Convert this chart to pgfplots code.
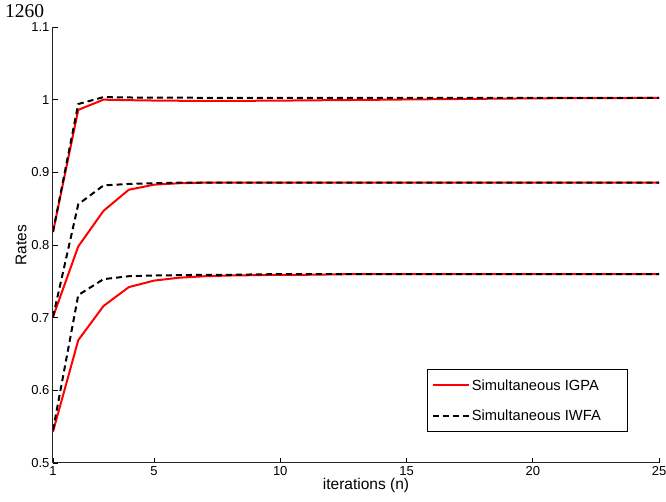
\documentclass[border=0pt]{standalone}
\usepackage{pgfplots}
\pgfplotsset{compat=1.18}
\usepackage{fontspec}
\setmainfont{Liberation Sans}
\newfontfamily\serifpage{Liberation Serif}
\begin{document}
\begin{tikzpicture}[x=1pt,y=1pt]
\path[use as bounding box] (-53,-39) rectangle (613,463);
\node[anchor=base west, inner sep=0pt, font=\serifpage\fontsize{19.5}{22}\selectfont] at (-48,445) {1260};
\begin{axis}[
  at={(0,0)}, anchor=south west,
  scale only axis, width=606pt, height=436pt,
  xmin=1, xmax=25, ymin=0.5, ymax=1.1,
  xtick={1,5,10,15,20,25},
  ytick={0.5,0.6,0.7,0.8,0.9,1,1.1},
  axis lines*=left,
  tick align=inside,
  major tick length=5pt,
  axis line style={line width=1pt, black!85},
  tick style={line width=0.7pt, black},
  /pgf/number format/assume math mode=true,
  tick label style={font=\fontsize{13}{15}\selectfont},
  xlabel={iterations (n)},
  ylabel={Rates},
  label style={font=\fontsize{15.5}{18}\selectfont},
  xlabel style={yshift=4pt, xshift=10pt},
  ylabel style={yshift=-2pt},
  legend style={at={(0.949,0.071)}, anchor=south east, draw=black, line width=0.7pt,
    fill=white, font=\fontsize{14.7}{17}\selectfont, row sep=14pt,
    inner xsep=4pt, inner ysep=8pt},
  legend cell align=left,
  legend image code/.code={\draw[#1] (0pt,0pt) -- (36pt,0pt);},
]
\addplot[red, line width=2pt] table {
x y
1 0.818
2 0.986
3 1.000
4 0.9993
5 0.9988
6 0.9985
7 0.9984
8 0.9984
9 0.9985
10 0.9987
11 0.9990
12 0.9993
13 0.9996
14 0.9999
15 1.0003
16 1.0006
17 1.0009
18 1.0012
19 1.0015
20 1.0018
21 1.0020
22 1.0021
23 1.0022
24 1.0023
25 1.0023
};
\addlegendentry{\makebox[150pt][l]{Simultaneous IGPA}}
\addplot[black, line width=2pt, dash pattern=on 6pt off 4pt] table {
x y
1 0.818
2 0.994
3 1.0035
4 1.0030
5 1.0028
6 1.0027
7 1.0026
8 1.0026
9 1.0025
10 1.0025
11 1.0025
12 1.0024
13 1.0024
14 1.0024
15 1.0024
16 1.0024
17 1.0024
18 1.0024
19 1.0024
20 1.0024
21 1.0024
22 1.0023
23 1.0023
24 1.0023
25 1.0023
};
\addlegendentry{\makebox[150pt][l]{Simultaneous IWFA}}
\addplot[red, line width=2pt, forget plot] table {
x y
1 0.701
2 0.798
3 0.847
4 0.876
5 0.883
6 0.885
7 0.8858
8 0.886
9 0.886
10 0.886
11 0.886
12 0.886
13 0.886
14 0.886
15 0.886
16 0.886
17 0.886
18 0.886
19 0.886
20 0.886
21 0.886
22 0.886
23 0.886
24 0.886
25 0.886
};
\addplot[black, line width=2pt, dash pattern=on 6pt off 4pt, forget plot] table {
x y
1 0.701
2 0.856
3 0.882
4 0.884
5 0.885
6 0.8858
7 0.886
8 0.886
9 0.886
10 0.886
11 0.886
12 0.886
13 0.886
14 0.886
15 0.886
16 0.886
17 0.886
18 0.886
19 0.886
20 0.886
21 0.886
22 0.886
23 0.886
24 0.886
25 0.886
};
\addplot[red, line width=2pt, forget plot] table {
x y
1 0.543
2 0.669
3 0.716
4 0.742
5 0.751
6 0.755
7 0.757
8 0.758
9 0.7585
10 0.759
11 0.759
12 0.7595
13 0.760
14 0.760
15 0.760
16 0.760
17 0.760
18 0.760
19 0.760
20 0.760
21 0.760
22 0.760
23 0.760
24 0.760
25 0.760
};
\addplot[black, line width=2pt, dash pattern=on 6pt off 4pt, forget plot] table {
x y
1 0.545
2 0.731
3 0.753
4 0.757
5 0.758
6 0.7585
7 0.759
8 0.759
9 0.7595
10 0.760
11 0.760
12 0.760
13 0.760
14 0.760
15 0.760
16 0.760
17 0.760
18 0.760
19 0.760
20 0.760
21 0.760
22 0.760
23 0.760
24 0.760
25 0.760
};
\end{axis}
\end{tikzpicture}
\end{document}
